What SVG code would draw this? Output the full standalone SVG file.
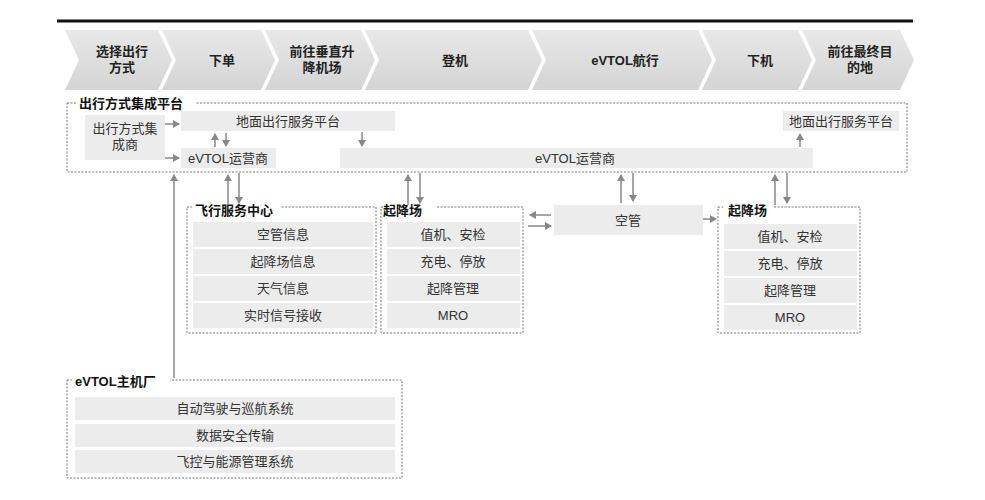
<svg xmlns="http://www.w3.org/2000/svg" width="985" height="500" viewBox="0 0 985 500">
<defs>
<marker id="ah" markerWidth="8" markerHeight="8" refX="6" refY="4" orient="auto" markerUnits="userSpaceOnUse"><path d="M0,0 L7,4 L0,8 Z" fill="#888"/></marker>
<linearGradient id="cg" x1="0" y1="0" x2="0" y2="1"><stop offset="0" stop-color="#e8e8e8"/><stop offset="1" stop-color="#d4d4d4"/></linearGradient>
</defs>
<style>
text{font-family:"Liberation Sans","Noto Sans CJK SC",sans-serif;fill:#333;font-size:13px;text-anchor:middle}
.h{font-weight:bold;font-size:13px;fill:#222}
.t{font-weight:bold;text-anchor:start;fill:#111}
.b{fill:#ececec}
.d{fill:none;stroke:#777;stroke-width:1;stroke-dasharray:2,1.5}
.c{stroke:#888;stroke-width:1.5;fill:none;marker-end:url(#ah)}
.ch{fill:url(#cg)}
</style>
<rect width="985" height="500" fill="#fff"/>
<line x1="57" y1="21" x2="913" y2="21" stroke="#111" stroke-width="3"/>
<g id="chevrons">
<path class="ch" d="M65,30 H158 L172,60 L158,90 H65 L79,60 Z"/>
<path class="ch" d="M162,30 H261 L275,60 L261,90 H162 L176,60 Z"/>
<path class="ch" d="M265,30 H361 L375,60 L361,90 H265 L279,60 Z"/>
<path class="ch" d="M365,30 H528 L542,60 L528,90 H365 L379,60 Z"/>
<path class="ch" d="M532,30 H698 L712,60 L698,90 H532 L546,60 Z"/>
<path class="ch" d="M702,30 H798 L812,60 L798,90 H702 L716,60 Z"/>
<path class="ch" d="M802,30 H900 L914,60 L900,90 H802 L816,60 Z"/>
<text class="h" x="122" y="56">选择出行</text><text class="h" x="122" y="72">方式</text>
<text class="h" x="222" y="65">下单</text>
<text class="h" x="322" y="56">前往垂直升</text><text class="h" x="322" y="72">降机场</text>
<text class="h" x="455" y="65">登机</text>
<text class="h" x="625" y="65">eVTOL航行</text>
<text class="h" x="760" y="65">下机</text>
<text class="h" x="860" y="56">前往最终目</text><text class="h" x="860" y="72">的地</text>
</g>
<g id="platform">
<rect class="d" x="67" y="103" width="840" height="69"/>
<rect x="76" y="96" width="120" height="14" fill="#fff"/>
<text class="t" x="79" y="108">出行方式集成平台</text>
</g>
<g id="integrator"><rect class="b" x="85" y="115" width="80" height="45"/><text x="125" y="133">出行方式集</text><text x="125" y="149">成商</text></g>
<g id="ground1"><rect class="b" x="181" y="111" width="214" height="20"/><text x="288" y="126">地面出行服务平台</text></g>
<g id="op1"><rect class="b" x="181" y="148" width="95" height="20"/><text x="228" y="163">eVTOL运营商</text></g>
<g id="op2"><rect class="b" x="340" y="148" width="473" height="20"/><text x="575" y="163">eVTOL运营商</text></g>
<g id="ground2"><rect class="b" x="783" y="111" width="116" height="20"/><text x="841" y="126">地面出行服务平台</text></g>
<g id="fsc">
<rect class="d" x="187" y="207" width="189" height="126"/>
<rect x="192" y="203" width="88" height="14" fill="#fff"/>
<text class="t" x="195" y="215">飞行服务中心</text>
<rect class="b" x="193" y="222" width="180" height="25"/><text x="283" y="239">空管信息</text>
<rect class="b" x="193" y="249" width="180" height="25"/><text x="283" y="266">起降场信息</text>
<rect class="b" x="193" y="276" width="180" height="25"/><text x="283" y="293">天气信息</text>
<rect class="b" x="193" y="303" width="180" height="25"/><text x="283" y="320">实时信号接收</text>
</g>
<g id="vp1">
<rect class="d" x="381" y="207" width="142" height="126"/>
<rect x="386" y="203" width="50" height="14" fill="#fff"/>
<text class="t" x="383" y="215">起降场</text>
<rect class="b" x="387" y="222" width="133" height="25"/><text x="453" y="239">值机、安检</text>
<rect class="b" x="387" y="249" width="133" height="25"/><text x="453" y="266">充电、停放</text>
<rect class="b" x="387" y="276" width="133" height="25"/><text x="453" y="293">起降管理</text>
<rect class="b" x="387" y="303" width="133" height="25"/><text x="453" y="320">MRO</text>
</g>
<g id="atc"><rect class="b" x="554" y="205" width="149" height="30"/><text x="628" y="225">空管</text></g>
<g id="vp2">
<rect class="d" x="718" y="207" width="142" height="126"/>
<rect x="723" y="203" width="50" height="14" fill="#fff"/>
<text class="t" x="728" y="215">起降场</text>
<rect class="b" x="724" y="224" width="133" height="25"/><text x="790" y="241">值机、安检</text>
<rect class="b" x="724" y="251" width="133" height="25"/><text x="790" y="268">充电、停放</text>
<rect class="b" x="724" y="278" width="133" height="25"/><text x="790" y="295">起降管理</text>
<rect class="b" x="724" y="305" width="133" height="25"/><text x="790" y="322">MRO</text>
</g>
<g id="oem">
<rect class="d" x="67" y="380" width="335" height="98"/>
<rect x="72" y="376" width="98" height="14" fill="#fff"/>
<text class="t" x="75" y="386">eVTOL主机厂</text>
<rect class="b" x="75" y="397" width="320" height="23"/><text x="235" y="413">自动驾驶与巡航系统</text>
<rect class="b" x="75" y="424" width="320" height="23"/><text x="235" y="440">数据安全传输</text>
<rect class="b" x="75" y="450" width="320" height="23"/><text x="235" y="466">飞控与能源管理系统</text>
</g>
<g id="connectors">
<path class="c" d="M165,124 H179"/>
<path class="c" d="M165,158 H179"/>
<path class="c" d="M215,147 V134"/>
<path class="c" d="M226,133 V146"/>
<path class="c" d="M362,132 V146"/>
<path class="c" d="M800,147 V134"/>
<path class="c" d="M174,378 V175"/>
<path class="c" d="M228,205 V175"/>
<path class="c" d="M239,173 V203"/>
<path class="c" d="M408,205 V175"/>
<path class="c" d="M420,173 V203"/>
<path class="c" d="M621,203 V175"/>
<path class="c" d="M633,173 V201"/>
<path class="c" d="M775,205 V175"/>
<path class="c" d="M787,173 V203"/>
<path class="c" d="M551,215 H530"/>
<path class="c" d="M528,226 H551"/>
<path class="c" d="M703,219 H716"/>
</g>
</svg>
